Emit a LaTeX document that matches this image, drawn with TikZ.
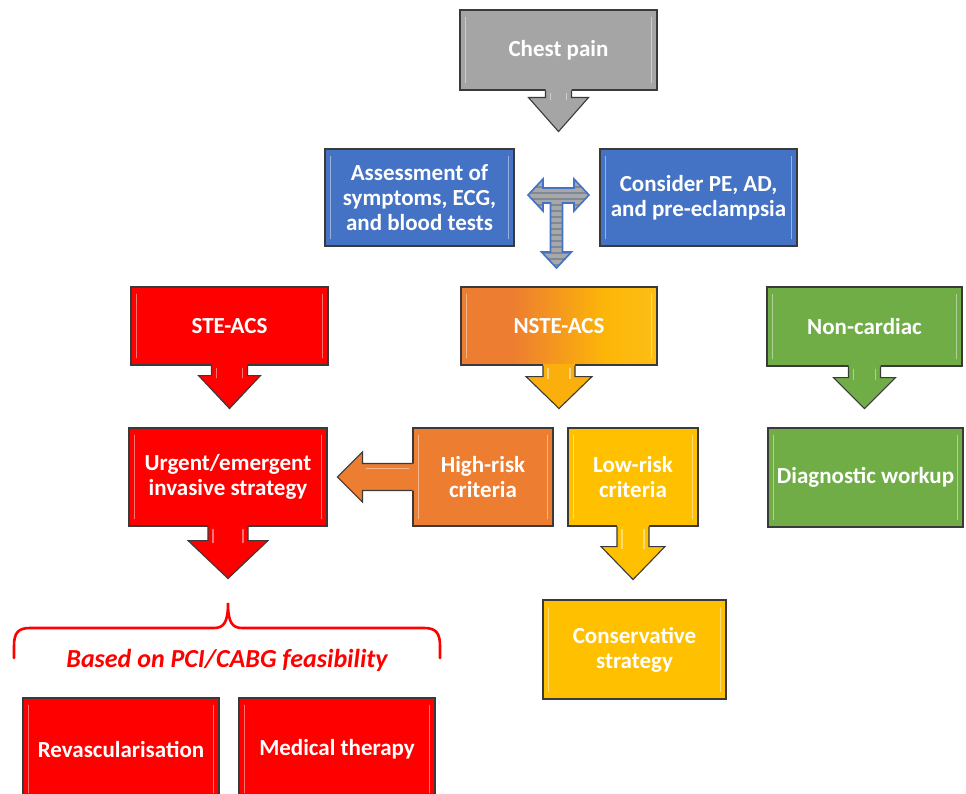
\documentclass[tikz,border=0pt]{standalone}
\usepackage{fontspec}
\setmainfont{Carlito}
\usetikzlibrary{calc}
\definecolor{cgray}{HTML}{A5A5A5}
\definecolor{cblue}{HTML}{4472C4}
\definecolor{cred}{HTML}{FF0000}
\definecolor{corange}{HTML}{ED7D31}
\definecolor{cyellow}{HTML}{FFC000}
\definecolor{cgreen}{HTML}{70AD47}
\definecolor{boxline}{HTML}{3A3A3A}
\definecolor{tgray}{HTML}{A8A8A8}
\definecolor{tstripe}{HTML}{7F8896}
\pgfdeclarehorizontalshading{nsteshade}{100bp}{color(0bp)=(corange); color(38bp)=(corange); color(62bp)=(cyellow!85!corange); color(100bp)=(cyellow!80!white)}
\tikzset{
  box/.style={draw=boxline, line width=1.1pt, text=white, align=center, inner sep=0pt,
    font=\bfseries\fontsize{23}{25}\selectfont},
  edge/.style={draw=boxline, line width=1.1pt, line join=miter},
  shine/.style={white, opacity=0.45, line width=1.6pt, line cap=round},
  bracestyle/.style={cred, line width=2.6pt, line cap=round},
}
\newcommand\bevel[1]{%
  \draw[shine] ($(#1.north west)+(6,8)$) -- ($(#1.south west)+(6,-8)$);
  \draw[shine] ($(#1.north east)+(-6,8)$) -- ($(#1.south east)+(-6,-8)$);}
% #1 node, #2 colour, #3 stem half width, #4 head half width, #5 head start, #6 tip
\newcommand\calldown[6]{%
  \fill[#2] ($(#1.south)+(-#3,-1.6)$) -- ($(#1.south)+(-#3,#5)$) -- ($(#1.south)+(-#4,#5)$)
    -- ($(#1.south)+(0,#6)$) -- ($(#1.south)+(#4,#5)$) -- ($(#1.south)+(#3,#5)$)
    -- ($(#1.south)+(#3,-1.6)$) -- cycle;
  \draw[edge] ($(#1.south)+(-#3,0)$) -- ($(#1.south)+(-#3,#5)$) -- ($(#1.south)+(-#4,#5)$)
    -- ($(#1.south)+(0,#6)$) -- ($(#1.south)+(#4,#5)$) -- ($(#1.south)+(#3,#5)$)
    -- ($(#1.south)+(#3,0)$);
  \draw[shine] ($(#1.south)+(-#3+5,3)$) -- ($(#1.south)+(-#3+5,#5+2)$);
  \draw[shine] ($(#1.south)+(#3-5,3)$) -- ($(#1.south)+(#3-5,#5+2)$);}
\begin{document}
\begin{tikzpicture}[x=1pt,y=-1pt]
\clip (0,0) rectangle (966,794);
\fill[white] (0,0) rectangle (966,794);

% boxes
\node[box, fill=cgray, minimum width=197pt, minimum height=80pt] (chest) at (558.5,50) {Chest pain};
\node[box, fill=cblue, minimum width=189pt, minimum height=97pt] (assess) at (419.5,197.5) {Assessment of\\symptoms, ECG,\\and blood tests};
\node[box, fill=cblue, minimum width=197pt, minimum height=97pt] (consider) at (698.5,197.5) {Consider PE, AD,\\and pre-eclampsia};
\node[box, fill=cred, minimum width=197pt, minimum height=78pt] (ste) at (229.5,326) {STE-ACS};
\node[box, shading=nsteshade, minimum width=196pt, minimum height=78pt] (nste) at (559,326) {NSTE-ACS};
\node[box, fill=cgreen, minimum width=195pt, minimum height=79pt] (noncard) at (864.5,326.5) {Non-cardiac};
\node[box, fill=cred, minimum width=198pt, minimum height=98pt] (urgent) at (228,477) {Urgent/emergent\\invasive strategy};
\node[box, fill=corange, minimum width=140pt, minimum height=98pt] (high) at (483,477) {High-risk\\criteria};
\node[box, fill=cyellow, minimum width=130pt, minimum height=98pt] (low) at (633,477) {Low-risk\\criteria};
\node[box, fill=cgreen, minimum width=195pt, minimum height=99pt] (diag) at (865.5,477.5) {Diagnostic workup};
\node[box, fill=cyellow, minimum width=183pt, minimum height=99pt] (cons) at (634.5,649.5) {Conservative\\strategy};
\node[box, fill=cred, minimum width=196pt, minimum height=102pt] (revasc) at (121,749) {Revascularisation};
\node[box, fill=cred, minimum width=196pt, minimum height=102pt] (medical) at (337,749) {Medical therapy};

\foreach \n in {chest,assess,consider,ste,nste,noncard,urgent,high,low,diag,cons,revasc,medical} {\bevel{\n}}

% callout arrows
\calldown{chest}{cgray}{13}{30}{7}{41}
\calldown{ste}{cred}{18}{31}{10}{43}
\calldown{nste}{cyellow!75!corange}{16}{33}{11}{43}
\calldown{noncard}{cgreen}{16}{31}{11}{42}
\calldown{urgent}{cred}{20}{40}{14}{52}
\calldown{low}{cyellow}{16}{32}{20}{53}

% left arrow from high-risk
\fill[corange] ($(high.west)+(1.6,-13.5)$) -- ($(high.west)+(-50,-13.5)$) -- ($(high.west)+(-50,-25)$)
  -- ($(high.west)+(-75,0)$) -- ($(high.west)+(-50,25)$) -- ($(high.west)+(-50,13.5)$)
  -- ($(high.west)+(1.6,13.5)$) -- cycle;
\draw[edge] ($(high.west)+(0,-13.5)$) -- ($(high.west)+(-50,-13.5)$) -- ($(high.west)+(-50,-25)$)
  -- ($(high.west)+(-75,0)$) -- ($(high.west)+(-50,25)$) -- ($(high.west)+(-50,13.5)$)
  -- ($(high.west)+(0,13.5)$);
\draw[shine] ($(high.west)+(-4,-8.5)$) -- ($(high.west)+(-46,-8.5)$);

% T-shaped arrow between the blue boxes
\def\Tpath{(528,195) -- (543,179) -- (543,188) -- (574,188) -- (574,179) -- (589,195) -- (574,211)
  -- (574,203) -- (562.5,203) -- (562.5,252) -- (571.5,252) -- (556.5,268) -- (541.5,252)
  -- (550.5,252) -- (550.5,203) -- (543,203) -- (543,211) -- cycle}
\fill[tgray] \Tpath;
\begin{scope}
  \clip \Tpath;
  \foreach \yy in {181,187,...,269} {\draw[tstripe, line width=1.6pt] (520,\yy) -- (600,\yy);}
\end{scope}
\draw[cblue, line width=1.6pt, line join=miter] \Tpath;

% brace and its label
\coordinate (bracetip) at (228,603);
\draw[bracestyle] (14,658) -- (14,646) .. controls (14,633) and (18,628) .. (30,628) -- (214,628)
  .. controls (224,628) and (228,622) .. (bracetip)
  .. controls (228,622) and (232,628) .. (242,628) -- (424,628)
  .. controls (436,628) and (440,633) .. (440,646) -- (440,658);
\node[text=cred, font=\bfseries\itshape\fontsize{26}{28}\selectfont] (based) at (227,660) {Based on PCI/CABG feasibility};
\end{tikzpicture}
\end{document}
